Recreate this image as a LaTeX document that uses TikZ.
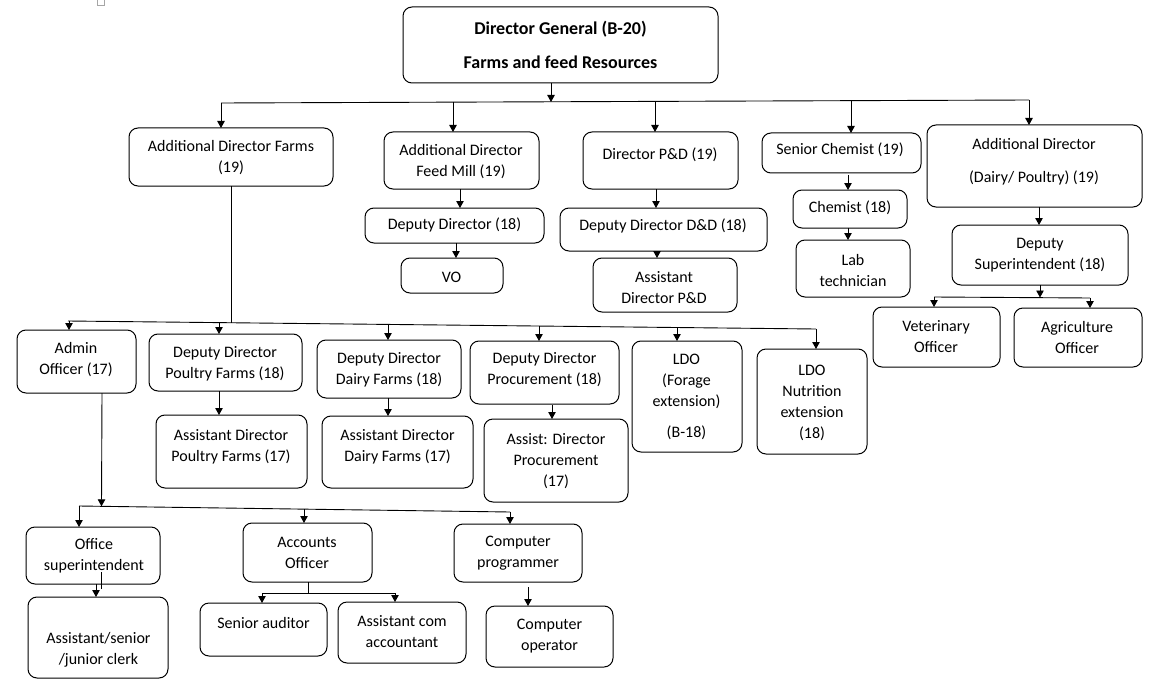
\documentclass[tikz,border=0pt]{standalone}
\usepackage{fontspec}
\setmainfont{Carlito}
\usetikzlibrary{arrows.meta}
\tikzset{
  boxst/.style={draw=black, line width=1pt, rounded corners=9pt, inner sep=0pt, outer sep=0pt},
  txtst/.style={align=center, inner sep=0pt, font=\fontsize{16}{21}\selectfont},
  conn/.style={draw=black, line width=0.9pt},
  arr/.style={conn, -{Triangle[length=7pt,width=7.5pt]}},
}
\newcommand\obox[5]{\node[boxst, minimum width={(#4-#2)*1pt}, minimum height={(#5-#3)*1pt}] (#1) at ({(#2+#4)/2},{(#3+#5)/2}) {};}
\newcommand\otext[4]{\node[txtst] (#1) at (#2,#3) {#4};}
\begin{document}
\begin{tikzpicture}[x=1pt,y=-1pt]
\useasboundingbox (0,0) rectangle (1155,687);
% small artifact square
\node[draw=gray!70, line width=0.6pt, minimum width=7pt, minimum height=7pt, inner sep=0pt] (sq) at (100.5,2) {};
% boxes
\obox{dg}{403}{7}{718}{83}
\obox{adf}{129}{128}{333}{186}
\obox{adfm}{384}{132}{539}{189}
\obox{dpd}{583}{132}{738}{189}
\obox{sc}{762}{133}{921}{173}
\obox{addp}{927}{125}{1142}{207}
\obox{dd18}{365}{208}{544}{243}
\obox{vo}{401}{258}{503}{293}
\obox{ddd}{560}{208}{767}{251}
\obox{adpd}{593}{258}{737}{312}
\obox{chem}{793}{190}{907}{228}
\obox{lab}{796}{240}{910}{297}
\obox{ds}{952}{225}{1128}{285}
\obox{vet}{873}{307}{1000}{367}
\obox{agr}{1014}{308}{1142}{367}
\obox{admin}{17}{330}{136}{393}
\obox{ddpf}{149}{334}{302}{391}
\obox{dddf}{317}{340}{461}{398}
\obox{ddp}{470}{341}{619}{404}
\obox{ldof}{632}{341}{742}{452}
\obox{ldon}{757}{349}{867}{454}
\obox{adpf}{156}{415}{307}{488}
\obox{addf}{322}{416}{473}{488}
\obox{adproc}{484}{419}{628}{502}
\obox{osup}{26}{527}{160}{584}
\obox{acc}{243}{523}{372}{582}
\obox{cp}{454}{524}{582}{582}
\obox{clerk}{28}{597}{168}{678}
\obox{sa}{200}{603}{327}{656}
\obox{acm}{338}{602}{466}{663}
\obox{cop}{486}{606}{613}{667}
% texts
\node[txtst, font=\fontsize{18}{21}\selectfont\bfseries] (dg-t) at (560.5,45) {Director General (B-20)\\[13pt]Farms and feed Resources};
\otext{adf-t}{231}{157.5}{Additional Director Farms\\(19)}
\otext{adfm-t}{461}{161.5}{Additional Director\\Feed Mill (19)}
\otext{dpd-t}{660}{155}{Director P\&D (19)}
\otext{sc-t}{840}{150}{Senior Chemist (19)}
\otext{addp-t}{1034}{161.5}{Additional Director\\[12pt](Dairy/ Poultry) (19)}
\otext{dd18-t}{454.5}{225}{Deputy Director (18)}
\otext{vo-t}{451.5}{277}{VO}
\otext{ddd-t}{663}{226}{Deputy Director D\&D (18)}
\otext{adpd-t}{664}{287.5}{Assistant\\Director P\&D}
\otext{chem-t}{850}{208}{Chemist (18)}
\otext{lab-t}{853}{270.5}{Lab\\technician}
\otext{ds-t}{1040}{255.5}{Deputy\\Superintendent (18)}
\otext{vet-t}{936}{337}{Veterinary\\Officer}
\otext{agr-t}{1077}{337.5}{Agriculture\\Officer}
\otext{admin-t}{76}{360}{Admin\\Officer (17)}
\otext{ddpf-t}{225}{364}{Deputy Director\\Poultry Farms (18)}
\otext{dddf-t}{389}{369.5}{Deputy Director\\Dairy Farms (18)}
\otext{ddp-t}{544.5}{370}{Deputy Director\\Procurement (18)}
\otext{ldof-t}{686.5}{397}{LDO\\(Forage\\extension)\\[10pt](B-18)}
\otext{ldon-t}{812}{402.5}{LDO\\Nutrition\\extension\\(18)}
\otext{adpf-t}{231}{446.5}{Assistant Director\\Poultry Farms (17)}
\otext{addf-t}{397.5}{446.5}{Assistant Director\\Dairy Farms (17)}
\otext{adproc-t}{556}{461.5}{Assist: Director\\Procurement\\(17)}
\otext{osup-t}{94}{556}{Office\\superintendent}
\otext{acc-t}{307}{553}{Accounts\\Officer}
\otext{cp-t}{518}{553}{Computer\\programmer}
\otext{clerk-t}{98.5}{650}{Assistant/senior\\/junior clerk}
\otext{sa-t}{263.5}{623}{Senior auditor}
\otext{acm-t}{402}{632}{Assistant com\\accountant}
\otext{cop-t}{549.5}{636.5}{Computer\\operator}
% bus 1 (Director General)
\coordinate (b1dg) at (551,102);
\coordinate (b1a) at (221,103);
\coordinate (b1b) at (453,102);
\coordinate (b1c) at (655,101.5);
\coordinate (b1d) at (851,101);
\coordinate (b1e) at (1029,100);
\draw[arr] (b1dg |- dg.south) -- (b1dg);
\draw[conn] (b1a) -- (b1e);
\draw[arr] (b1a) -- (b1a |- adf.north);
\draw[arr] (b1b) -- (b1b |- adfm.north);
\draw[arr] (b1c) -- (b1c |- dpd.north);
\draw[arr] (b1d) -- (b1d |- sc.north);
\draw[arr] (b1e) -- (b1e |- addp.north);
% feed mill chain
\draw[arr] ([xshift=-1.5pt]adfm.south) -- ([xshift=-1.5pt]adfm.south |- dd18.north);
\draw[arr] ([xshift=1.5pt]dd18.south) -- ([xshift=1.5pt]dd18.south |- vo.north);
% P&D chain
\draw[arr] ([xshift=-4.5pt]dpd.south) -- ([xshift=-4.5pt]dpd.south |- ddd.north);
\draw[arr] ([xshift=-6.5pt]ddd.south) -- ([xshift=-6.5pt]ddd.south |- adpd.north);
% chemist chain
\draw[arr] ([xshift=6.5pt,yshift=-2pt]sc.south) -- ([xshift=6.5pt]sc.south |- chem.north);
\draw[arr] ([xshift=-2pt]chem.south) -- ([xshift=-2pt]chem.south |- lab.north);
% dairy/poultry chain
\draw[arr] ([xshift=4.5pt]addp.south) -- ([xshift=4.5pt]addp.south |- ds.north);
\coordinate (b4L) at (934,297);
\coordinate (b4R) at (1090,298);
\coordinate (b4j) at (1040,297.5);
\draw[arr] (ds.south) -- (b4j);
\draw[conn] (b4L) -- (b4R);
\draw[arr] (b4L) -- (b4L |- vet.north);
\draw[arr] (b4R) -- (b4R |- agr.north);
% bus 2 (Additional Director Farms)
\coordinate (b2L) at (68,321);
\coordinate (b2R) at (816,329);
\coordinate (b2j) at (231,322.7);
\coordinate (b2a) at (69,321);
\coordinate (b2b) at (219,322.6);
\coordinate (b2c) at (388,324.4);
\coordinate (b2d) at (539,326);
\coordinate (b2e) at (677,327.5);
\draw[conn] (adf.south) -- (b2j);
\draw[conn] (b2L) -- (b2R);
\draw[arr] (b2a) -- (b2a |- admin.north);
\draw[arr] (b2b) -- (b2b |- ddpf.north);
\draw[arr] (b2c) -- (b2c |- dddf.north);
\draw[arr] (b2d) -- (b2d |- ddp.north);
\draw[arr] (b2e) -- (b2e |- ldof.north);
\draw[arr] (b2R) -- (b2R |- ldon.north);
\draw[arr] ([xshift=-6.5pt]ddpf.south) -- ([xshift=-6.5pt]ddpf.south |- adpf.north);
\draw[arr] ([xshift=-1pt]dddf.south) -- ([xshift=-1pt]dddf.south |- addf.north);
\draw[arr] ([xshift=7.5pt,yshift=-1pt]ddp.south) -- ([xshift=7.5pt]ddp.south |- adproc.north);
% bus 3 (Admin Officer)
\coordinate (b3L) at (79,506);
\coordinate (b3R) at (510,512);
\coordinate (b3j) at (101.5,506.3);
\coordinate (b3m) at (304,509.1);
\draw[arr] ([xshift=25.5pt]admin.south) -- (b3j);
\draw[conn] (b3L) -- (b3R);
\draw[arr] (b3L) -- (b3L |- osup.north);
\draw[arr] (b3m) -- (b3m |- acc.north);
\draw[arr] (b3R) -- (b3R |- cp.north);
% office superintendent
\coordinate (os1) at (101.7,572);
\coordinate (os2) at (101.7,589);
\draw[conn] (os1) -- (os2);
\draw[arr] ([xshift=3pt]osup.south) -- ([xshift=3pt]osup.south |- clerk.north);
% accounts
\coordinate (b5L) at (262,593);
\coordinate (b5R) at (395,593);
\draw[conn] ([xshift=0.5pt]acc.south) -- ([xshift=0.5pt]acc.south |- b5L);
\draw[conn] (b5L) -- (b5R);
\draw[arr] (b5L) -- (b5L |- sa.north);
\draw[arr] (b5R) -- (b5R |- acm.north);
% computer
\draw[arr] ([xshift=10pt,yshift=-5pt]cp.south) -- ([xshift=10pt]cp.south |- cop.north);
\end{tikzpicture}
\end{document}
